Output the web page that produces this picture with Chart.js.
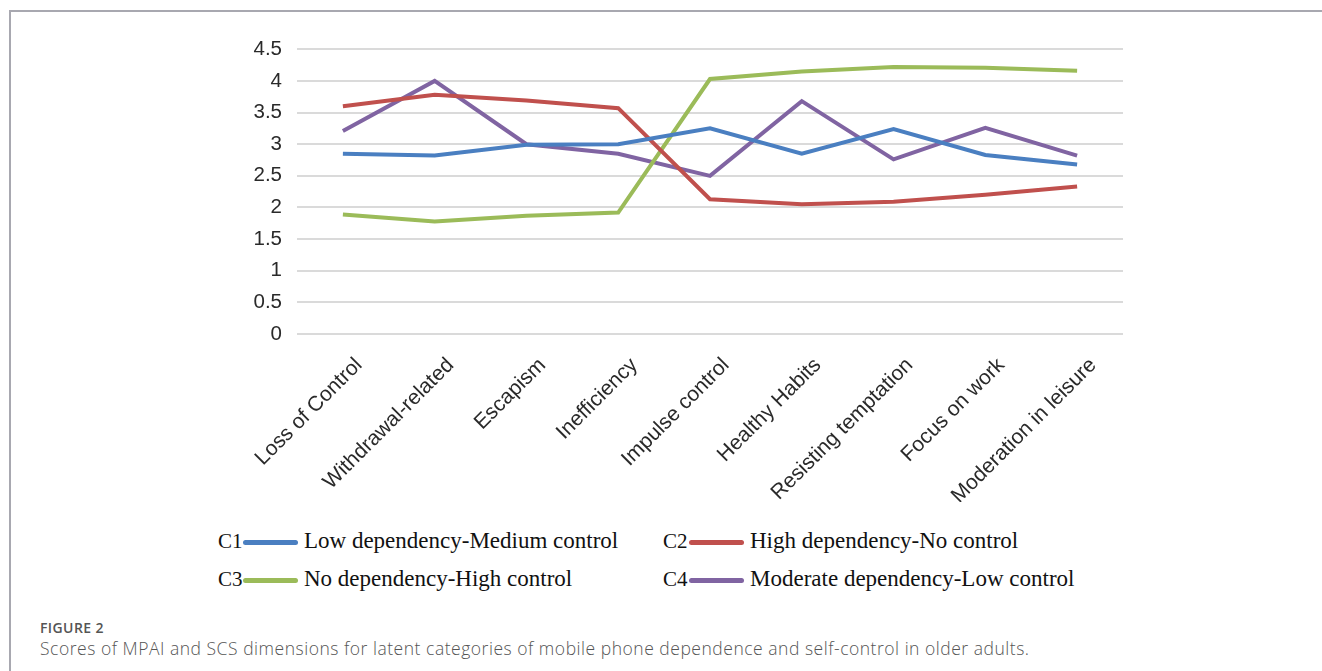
<!DOCTYPE html>
<html>
<head>
  <title>Figure 2</title>
  <script src="https://cdn.jsdelivr.net/npm/chart.js"></script>
  <style>
    body {
      margin: 0;
      background: #fff;
      width: 1322px;
      height: 671px;
      overflow: hidden;
      position: relative;
    }
    .frame {
      position: absolute;
      left: 9px;
      top: 10px;
      right: 0;
      bottom: 0;
      border-top: 2px solid #a8a8b0;
      border-left: 2px solid #a8a8b0;
    }
    #chartBox {
      position: absolute;
      left: 200px;
      top: 22px;
    }
    .legend-row {
      position: absolute;
      font-family: 'Liberation Serif', 'Times New Roman', serif;
      font-size: 23px;
      color: #111;
      white-space: nowrap;
      height: 26px;
      line-height: 26px;
    }
    .legend-row .code {
      display: inline-block;
      font-size: 21px;
    }
    .legend-row .swatch {
      display: inline-block;
      height: 5px;
      width: 55px;
      border-radius: 3px;
      vertical-align: middle;
      margin-right: 6px;
    }
    .cap-label {
      position: absolute;
      left: 40px;
      top: 618px;
      font-family: 'Open Sans', 'Noto Sans', sans-serif;
      font-size: 14px;
      letter-spacing: 0.4px;
      font-weight: 600;
      color: #555;
    }
    .cap-text {
      position: absolute;
      left: 40px;
      top: 636px;
      font-family: 'Open Sans', 'Noto Sans', sans-serif;
      font-size: 17.5px;
      letter-spacing: 0.52px;
      font-weight: 300;
      color: #555;
      white-space: nowrap;
    }
  </style>
</head>
<body>
  <div class="frame"></div>
  <div id="chartBox">
    <canvas id="scoreChart" width="940" height="480"></canvas>
  </div>
  <div id="legend"></div>
  <div class="cap-label">FIGURE 2</div>
  <div class="cap-text">Scores of MPAI and SCS dimensions for latent categories of mobile phone dependence and self-control in older adults.</div>
  <script>
    // dimensions (x axis)
    const categories = [
      "Loss of Control", "Withdrawal-related", "Escapism", "Inefficiency",
      "Impulse control", "Healthy Habits", "Resisting temptation",
      "Focus on work", "Moderation in leisure"
    ];

    // latent classes
    const seriesCodes = ["C1", "C2", "C3", "C4"];
    const seriesNames = [
      "Low dependency-Medium control",
      "High dependency-No control",
      "No dependency-High control",
      "Moderate dependency-Low control"
    ];
    const seriesColors = ["#4a7fc1", "#c0504d", "#9bbb59", "#8064a2"];

    // scores
    const c1Scores = [2.85, 2.82, 2.99, 3.00, 3.25, 2.85, 3.24, 2.83, 2.68];
    const c2Scores = [3.60, 3.78, 3.69, 3.57, 2.13, 2.05, 2.09, 2.20, 2.33];
    const c3Scores = [1.89, 1.78, 1.87, 1.92, 4.03, 4.15, 4.22, 4.21, 4.16];
    const c4Scores = [3.21, 4.00, 3.00, 2.85, 2.50, 3.68, 2.76, 3.26, 2.82];

    const yTicks = [0, 0.5, 1, 1.5, 2, 2.5, 3, 3.5, 4, 4.5];

    const allScores = [c1Scores, c2Scores, c3Scores, c4Scores];

    // legend (2 x 2 grid, code + line + name)
    const legendPos = [
      {left: 218, top: 528, codeW: 25}, {left: 663, top: 528, codeW: 26},
      {left: 218, top: 566, codeW: 25}, {left: 663, top: 566, codeW: 26}
    ];
    const legendEl = document.getElementById("legend");
    seriesCodes.forEach((code, i) => {
      const row = document.createElement("div");
      row.className = "legend-row";
      row.style.left = legendPos[i].left + "px";
      row.style.top = legendPos[i].top + "px";
      row.innerHTML = '<span class="code" style="width:' + legendPos[i].codeW + 'px">' + code +
        '</span><span class="swatch" style="background:' + seriesColors[i] + '"></span>' + seriesNames[i];
      legendEl.appendChild(row);
    });

    const ctx = document.getElementById("scoreChart").getContext("2d");
    new Chart(ctx, {
      type: "line",
      data: {
        labels: categories,
        datasets: seriesNames.map((name, i) => ({
          label: name,
          data: allScores[i],
          borderColor: seriesColors[i],
          backgroundColor: seriesColors[i],
          borderWidth: 4,
          pointRadius: 0,
          tension: 0,
          fill: false
        }))
      },
      options: {
        responsive: false,
        animation: false,
        layout: { padding: { top: 7, right: 17, left: 0, bottom: 0 } },
        plugins: {
          legend: { display: false },
          tooltip: { enabled: false }
        },
        scales: {
          x: {
            offset: true,
            grid: { display: false, drawTicks: false },
            border: { display: false },
            ticks: {
              minRotation: 45,
              maxRotation: 45,
              autoSkip: false,
              padding: 19,
              labelOffset: 16,
              color: "#2a2a2a",
              font: { family: "Liberation Sans, Arial, sans-serif", size: 21 }
            },
            afterFit: function(scale) { scale.height = 168; }
          },
          y: {
            min: 0,
            max: 4.5,
            afterBuildTicks: function(scale) {
              scale.ticks = yTicks.map(v => ({ value: v }));
            },
            grid: { color: "#dadada", lineWidth: 2, drawTicks: false },
            border: { display: false },
            ticks: {
              padding: 15,
              color: "#2a2a2a",
              font: { family: "Liberation Sans, Arial, sans-serif", size: 20.5 },
              callback: v => String(v)
            },
            afterFit: function(scale) { scale.width = 97; }
          }
        }
      }
    });
  </script>
</body>
</html>
